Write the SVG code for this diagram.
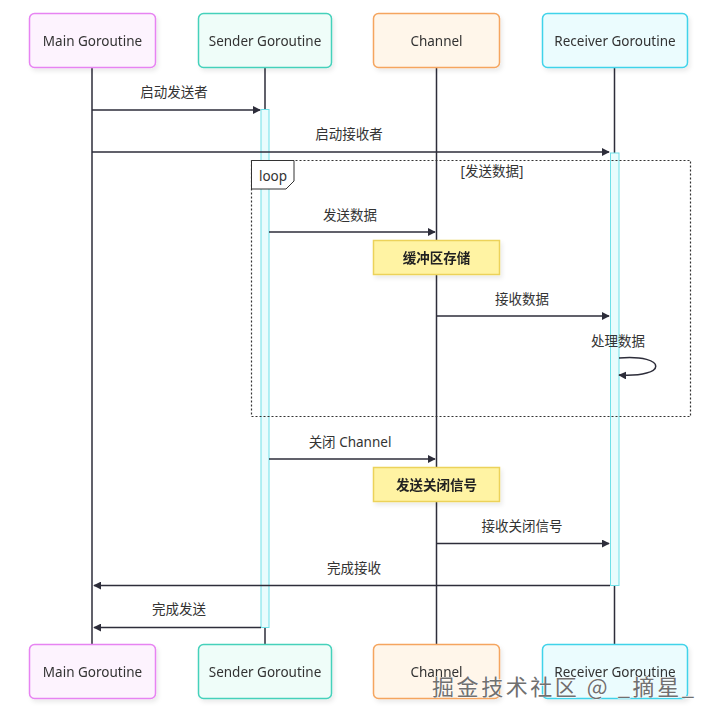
<svg xmlns="http://www.w3.org/2000/svg" width="715" height="720" viewBox="0 0 715 720">
<style>
text{font-family:"Noto Sans","Noto Sans CJK SC",sans-serif;font-size:13.5px;fill:#333;}
.actor{stroke-width:1.5;}
.lbl{text-anchor:middle;dominant-baseline:central;}
.life{stroke:#2d2d3a;stroke-width:1.5;}
.msg{stroke:#2d2d3a;stroke-width:1.5;fill:none;marker-end:url(#arr);}
.act{fill:#e8fcfd;stroke:#6fe0e8;stroke-width:1;}
.note{fill:#fff3a3;stroke:#ecd25a;stroke-width:1.5;}
.notet{font-weight:bold;fill:#222;}
.loop{fill:none;stroke:#333;stroke-width:1.2;stroke-dasharray:2 2;}
.wm{font-family:"Noto Sans CJK SC","Noto Sans",sans-serif;font-size:22px;fill:#707070;stroke:#fff;stroke-width:0.8;paint-order:stroke;}
</style>
<defs>
<marker id="arr" viewBox="0 0 10 10" refX="9" refY="5" markerWidth="8" markerHeight="8" markerUnits="userSpaceOnUse" orient="auto">
<path d="M0,0 L10,5 L0,10 z" fill="#2d2d3a"/>
</marker>
<filter id="sh" x="-10%" y="-10%" width="130%" height="140%">
<feDropShadow dx="2" dy="3" stdDeviation="2" flood-color="#000" flood-opacity="0.08"/>
</filter>
</defs>
<rect width="715" height="720" fill="#fff"/>
<g id="lifelines">
<line class="life" x1="92" y1="67" x2="92" y2="645"/>
<line class="life" x1="265" y1="67" x2="265" y2="645"/>
<line class="life" x1="436.5" y1="67" x2="436.5" y2="645"/>
<line class="life" x1="614.5" y1="67" x2="614.5" y2="645"/>
</g>
<g id="activations">
<rect class="act" x="261" y="109.5" width="8" height="518"/>
<rect class="act" x="610.5" y="153" width="8.5" height="432.5"/>
</g>
<g id="loop-frame">
<rect class="loop" x="251.5" y="160.5" width="439" height="256"/>
<path d="M251.5,160.5 H294 V181 L286,189 H251.5 Z" fill="#fff" stroke="#333" stroke-width="1"/>
<text x="273" y="176" class="lbl">loop</text>
<text x="492" y="171" class="lbl">[发送数据]</text>
</g>
<g id="actor-main-top" filter="url(#sh)">
<rect class="actor" x="29.5" y="13.5" width="126" height="54" rx="5" fill="#fdf3fe" stroke="#e783f2"/>
<text x="92.5" y="40.5" class="lbl">Main Goroutine</text>
</g>
<g id="actor-sender-top" filter="url(#sh)">
<rect class="actor" x="198.5" y="13.5" width="133" height="54" rx="5" fill="#effdf9" stroke="#44d1bb"/>
<text x="265" y="40.5" class="lbl">Sender Goroutine</text>
</g>
<g id="actor-channel-top" filter="url(#sh)">
<rect class="actor" x="373.5" y="13.5" width="126" height="54" rx="5" fill="#fff6ea" stroke="#f5a55e"/>
<text x="436.5" y="40.5" class="lbl">Channel</text>
</g>
<g id="actor-receiver-top" filter="url(#sh)">
<rect class="actor" x="542.5" y="13.5" width="145" height="54" rx="5" fill="#ebfcfe" stroke="#3fd3ea"/>
<text x="615" y="40.5" class="lbl">Receiver Goroutine</text>
</g>
<g id="connectors">
<line class="msg" x1="92" y1="110" x2="260" y2="110"/>
<text x="174" y="92" class="lbl">启动发送者</text>
<line class="msg" x1="92" y1="152" x2="609" y2="152"/>
<text x="349" y="134" class="lbl">启动接收者</text>
<line class="msg" x1="269" y1="232" x2="435" y2="232"/>
<text x="350" y="215" class="lbl">发送数据</text>
<line class="msg" x1="437" y1="316" x2="609" y2="316"/>
<text x="522" y="299" class="lbl">接收数据</text>
<path class="msg" d="M619,358 C668,354 668,378 619,375"/>
<text x="618" y="341" class="lbl">处理数据</text>
<line class="msg" x1="269" y1="459" x2="435" y2="459"/>
<text x="350" y="442" class="lbl">关闭 Channel</text>
<line class="msg" x1="437" y1="543.5" x2="609" y2="543.5"/>
<text x="522" y="526" class="lbl">接收关闭信号</text>
<line class="msg" x1="610" y1="585.5" x2="94" y2="585.5"/>
<text x="354" y="568" class="lbl">完成接收</text>
<line class="msg" x1="261" y1="627.5" x2="94" y2="627.5"/>
<text x="179" y="609" class="lbl">完成发送</text>
</g>
<g id="note-buffer" filter="url(#sh)">
<rect class="note" x="373.5" y="240.5" width="126" height="34"/>
<text x="436.5" y="258" class="lbl notet">缓冲区存储</text>
</g>
<g id="note-close" filter="url(#sh)">
<rect class="note" x="373.5" y="467.5" width="126" height="34"/>
<text x="436.5" y="485" class="lbl notet">发送关闭信号</text>
</g>
<g id="actor-main-bottom" filter="url(#sh)">
<rect class="actor" x="29.5" y="644.5" width="126" height="54" rx="5" fill="#fdf3fe" stroke="#e783f2"/>
<text x="92.5" y="672" class="lbl">Main Goroutine</text>
</g>
<g id="actor-sender-bottom" filter="url(#sh)">
<rect class="actor" x="198.5" y="644.5" width="133" height="54" rx="5" fill="#effdf9" stroke="#44d1bb"/>
<text x="265" y="672" class="lbl">Sender Goroutine</text>
</g>
<g id="actor-channel-bottom" filter="url(#sh)">
<rect class="actor" x="373.5" y="644.5" width="126" height="54" rx="5" fill="#fff6ea" stroke="#f5a55e"/>
<text x="436.5" y="672" class="lbl">Channel</text>
</g>
<g id="actor-receiver-bottom" filter="url(#sh)">
<rect class="actor" x="542.5" y="644.5" width="145" height="54" rx="5" fill="#ebfcfe" stroke="#3fd3ea"/>
<text x="615" y="672" class="lbl">Receiver Goroutine</text>
</g>
<text class="wm" x="432" y="695" textLength="262" lengthAdjust="spacing">掘金技术社区 @ _摘星_</text>
</svg>
